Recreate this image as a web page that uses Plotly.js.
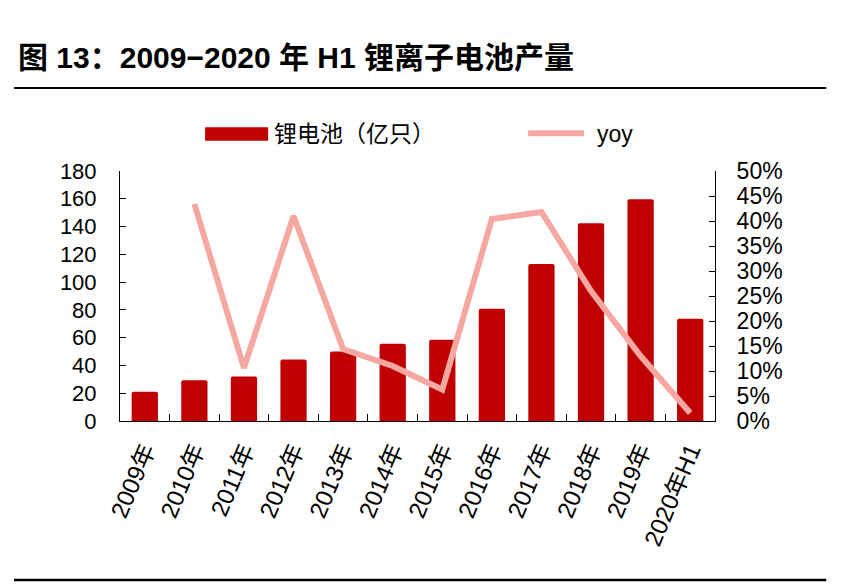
<!DOCTYPE html>
<html>
<head>
<meta charset="utf-8">
<script src="https://cdn.plot.ly/plotly-3.0.1.min.js"></script>
<style>
  html, body { margin: 0; padding: 0; background: #fff; }
  #chart { width: 844px; height: 584px; }
</style>
</head>
<body>
<div id="chart"></div>
<script>
var categories = ["2009年", "2010年", "2011年", "2012年", "2013年", "2014年",
                  "2015年", "2016年", "2017年", "2018年", "2019年", "2020年H1"];
// 锂电池产量（亿只）
var output = [21, 29.4, 32, 44.3, 50, 55.6, 58.5, 80.8, 113, 142.4, 159.7, 73.6];
// 同比
var yoy = [null, 0.434, 0.106, 0.41, 0.144, 0.11, 0.063, 0.404, 0.418, 0.26, 0.13, 0.016];

var barName = "锂电池（亿只）";
var lineName = "yoy";

var font = '"Liberation Sans", Arial, "Noto Sans CJK SC", sans-serif';
var barColor = "#C00000";
var lineColor = "#F5A8A1";

var bars = {
    x: categories,
    y: output,
    name: barName,
    type: "bar",
    marker: { color: barColor, cornerradius: 2 },
    hoverinfo: "x+y"
};
var line = {
    x: categories,
    y: yoy,
    name: lineName,
    type: "scatter",
    mode: "lines",
    yaxis: "y2",
    line: { color: lineColor, width: 6 },
    connectgaps: false
};

var layout = {
    width: 844,
    height: 584,
    paper_bgcolor: "#fff",
    plot_bgcolor: "#fff",
    margin: { l: 120, r: 129, t: 171, b: 163 },
    showlegend: false,
    bargap: 0.47,
    font: { family: font, color: "#000", size: 21 },
    title: {
        text: "<b>图 13：2009−2020 年 H1 锂离子电池产量</b>",
        font: { family: font, size: 30, color: "#000" },
        xref: "container", yref: "container",
        x: 18 / 844, xanchor: "left",
        y: 1 - 57 / 584, yanchor: "middle"
    },
    xaxis: {
        type: "category",
        showline: true, linecolor: "#000", linewidth: 1,
        ticks: "inside", ticklen: 7, tickcolor: "#000",
        tickson: "boundaries",
        tickangle: -67,
        ticklabelstandoff: 5,
        tickfont: { size: 24 },
        showgrid: false, zeroline: false
    },
    yaxis: {
        range: [0, 180], dtick: 20,
        showline: true, linecolor: "#000", linewidth: 1,
        ticks: "inside", ticklen: 6, tickcolor: "#000",
        ticklabelstandoff: 18,
        tickfont: { size: 22 },
        showgrid: false, zeroline: false
    },
    yaxis2: {
        overlaying: "y", side: "right",
        range: [0, 0.5], dtick: 0.05, tickformat: ".0%",
        showline: true, linecolor: "#000", linewidth: 1,
        ticks: "inside", ticklen: 6, tickcolor: "#000",
        ticklabelstandoff: 16,
        tickfont: { size: 23 },
        showgrid: false, zeroline: false
    },
    shapes: [
        { type: "line", xref: "paper", yref: "paper",
          x0: -0.178, x1: 1.187, y0: 1.332, y1: 1.332,
          line: { color: "#000", width: 2 } },
        { type: "line", xref: "paper", yref: "paper",
          x0: -0.178, x1: 1.187, y0: -0.636, y1: -0.636,
          line: { color: "#000", width: 2.5 } },
        // legend swatches
        { type: "rect", xref: "paper", yref: "paper",
          x0: 0.143, x1: 0.249, y0: 1.121, y1: 1.175,
          fillcolor: barColor, line: { width: 0 } },
        { type: "line", xref: "paper", yref: "paper",
          x0: 0.686, x1: 0.78, y0: 1.151, y1: 1.151,
          line: { color: lineColor, width: 6 } }
    ],
    annotations: [
        { xref: "paper", yref: "paper", x: 0.256, y: 1.148,
          xanchor: "left", yanchor: "middle", showarrow: false,
          text: barName, font: { size: 23 } },
        { xref: "paper", yref: "paper", x: 0.798, y: 1.148,
          xanchor: "left", yanchor: "middle", showarrow: false,
          text: lineName, font: { size: 23 } }
    ]
};

Plotly.newPlot("chart", [bars, line], layout, { displayModeBar: false, staticPlot: true });
</script>
</body>
</html>
